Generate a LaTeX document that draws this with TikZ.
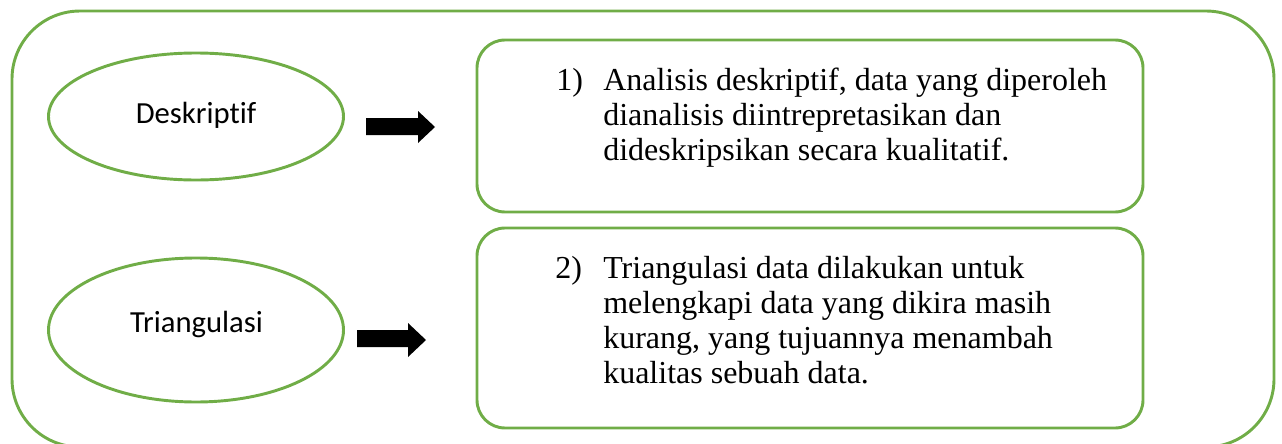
\documentclass[tikz,border=0pt]{standalone}
\usepackage{fontspec}
\setmainfont{Liberation Serif}
\newfontfamily\calib[Ligatures=NoCommon]{Carlito}
\usetikzlibrary{shapes.geometric}
\definecolor{ogreen}{RGB}{112,173,71}
\tikzset{
  frame/.style={draw=ogreen, line width=2.2pt},
  roundbox/.style={frame, rounded corners=21pt},
  oval/.style={frame, ellipse, inner sep=0pt},
  ovaltext/.style={font=\calib\fontsize{23}{27}\selectfont, inner sep=0pt, anchor=base},
  line/.style={font=\fontsize{24}{28}\selectfont, inner sep=0pt, anchor=base west},
  blockarrow/.style={fill=black, draw=none}
}
\begin{document}
\begin{tikzpicture}[x=0.75pt,y=-0.75pt]
\useasboundingbox (0,0) rectangle (1282,443);
% outer frame
\draw[frame, rounded corners=51pt] (12,11) rectangle (1274,447);
% ellipses
\node[oval, minimum width=295*0.75pt, minimum height=127*0.75pt] (e1) at (196,116.5) {};
\node[oval, minimum width=295*0.75pt, minimum height=144*0.75pt] (e2) at (196,330) {};
\node[ovaltext] (t1) at (196,123) {Deskriptif};
\node[ovaltext] (t2) at (196.5,332) {Triangulasi};
% block arrows
\fill[blockarrow] (366,118) -- (418,118) -- (418,111) -- (435,127) -- (418,143) -- (418,135) -- (366,135) -- cycle;
\fill[blockarrow] (357,330) -- (408,330) -- (408,323) -- (426,340) -- (408,357) -- (408,347) -- (357,347) -- cycle;
% boxes
\draw[roundbox] (477,40) rectangle (1143,212);
\draw[roundbox] (477,228) rectangle (1143,428);
% box 1 text
\node[line] (n1) at (556,90) {1)};
\node[line] (a1) at (603,90) {Analisis deskriptif, data yang diperoleh};
\node[line] (a2) at (603,125) {dianalisis diintrepretasikan dan};
\node[line] (a3) at (603,160) {dideskripsikan secara kualitatif.};
% box 2 text
\node[line] (n2) at (555,278) {2)};
\node[line] (b1) at (603,278) {Triangulasi data dilakukan untuk};
\node[line] (b2) at (603,313) {melengkapi data yang dikira masih};
\node[line] (b3) at (603,348) {kurang, yang tujuannya menambah};
\node[line] (b4) at (603,383) {kualitas sebuah data.};
\end{tikzpicture}
\end{document}
